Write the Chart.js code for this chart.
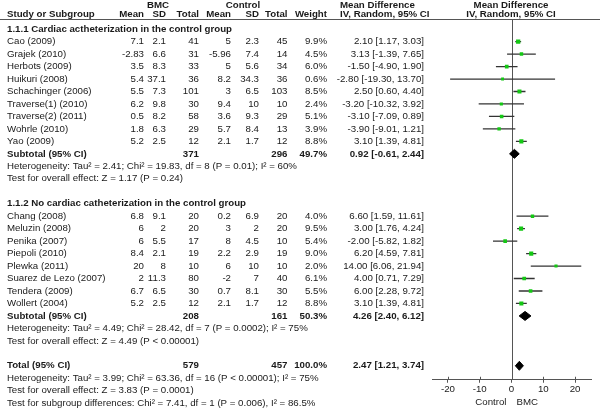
<!DOCTYPE html>
<html>
<head>
<meta charset="utf-8">
<script src="https://cdn.jsdelivr.net/npm/chart.js@4.4.0/dist/chart.umd.min.js"></script>
<style>
  html, body { margin: 0; padding: 0; background: #fff; }
  #wrap { width: 600px; height: 415px; }
</style>
</head>
<body>
<div id="wrap"><canvas id="forest" width="600" height="415"></canvas></div>
<script>
// --- group 1.1.1 ---
const names1 = ["Cao (2009)", "Grajek (2010)", "Herbots (2009)", "Huikuri (2008)", "Schachinger (2006)",
  "Traverse(1) (2010)", "Traverse(2) (2011)", "Wohrle (2010)", "Yao (2009)"];
const bmcMean1 = ["7.1", "-2.83", "3.5", "5.4", "5.5", "6.2", "0.5", "1.8", "5.2"];
const bmcSD1 = ["2.1", "6.6", "8.3", "37.1", "7.3", "9.8", "8.2", "6.3", "2.5"];
const bmcN1 = [41, 31, 33, 36, 101, 30, 58, 29, 12];
const ctlMean1 = ["5", "-5.96", "5", "8.2", "3", "9.4", "3.6", "5.7", "2.1"];
const ctlSD1 = ["2.3", "7.4", "5.6", "34.3", "6.5", "10", "9.3", "8.4", "1.7"];
const ctlN1 = [45, 14, 34, 36, 103, 10, 29, 13, 12];
const weight1 = [9.9, 4.5, 6.0, 0.6, 8.5, 2.4, 5.1, 3.9, 8.8];
const md1 = [2.10, 3.13, -1.50, -2.80, 2.50, -3.20, -3.10, -3.90, 3.10];
const lo1 = [1.17, -1.39, -4.90, -19.30, 0.60, -10.32, -7.09, -9.01, 1.39];
const hi1 = [3.03, 7.65, 1.90, 13.70, 4.40, 3.92, 0.89, 1.21, 4.81];

// --- group 1.1.2 ---
const names2 = ["Chang (2008)", "Meluzin (2008)", "Penika (2007)", "Piepoli (2010)", "Plewka (2011)",
  "Suarez de Lezo (2007)", "Tendera (2009)", "Wollert (2004)"];
const bmcMean2 = ["6.8", "6", "6", "8.4", "20", "2", "6.7", "5.2"];
const bmcSD2 = ["9.1", "2", "5.5", "2.1", "8", "11.3", "6.5", "2.5"];
const bmcN2 = [20, 20, 17, 19, 10, 80, 30, 12];
const ctlMean2 = ["0.2", "3", "8", "2.2", "6", "-2", "0.7", "2.1"];
const ctlSD2 = ["6.9", "2", "4.5", "2.9", "10", "7", "8.1", "1.7"];
const ctlN2 = [20, 20, 10, 19, 10, 40, 30, 12];
const weight2 = [4.0, 9.5, 5.4, 9.0, 2.0, 6.1, 5.5, 8.8];
const md2 = [6.60, 3.00, -2.00, 6.20, 14.00, 4.00, 6.00, 3.10];
const lo2 = [1.59, 1.76, -5.82, 4.59, 6.06, 0.71, 2.28, 1.39];
const hi2 = [11.61, 4.24, 1.82, 7.81, 21.94, 7.29, 9.72, 4.81];

// subtotals / total: [bmcN, ctlN, weight, md, lo, hi]
const sub1 = [371, 296, 49.7, 0.92, -0.61, 2.44];
const sub2 = [208, 161, 50.3, 4.26, 2.40, 6.12];
const total = [579, 457, 100.0, 2.47, 1.21, 3.74];

const xTicks = [-20, -10, 0, 10, 20];

const headings = ["1.1.1 Cardiac actheterization in the control group", "1.1.2 No cardiac catheterization in the control group"];
const het1 = ["Heterogeneity: Tau² = 2.41; Chi² = 19.83, df = 8 (P = 0.01); I² = 60%", "Test for overall effect: Z = 1.17 (P = 0.24)"];
const het2 = ["Heterogeneity: Tau² = 4.49; Chi² = 28.42, df = 7 (P = 0.0002); I² = 75%", "Test for overall effect: Z = 4.49 (P < 0.00001)"];
const hetTot = ["Heterogeneity: Tau² = 3.99; Chi² = 63.36, df = 16 (P < 0.00001); I² = 75%", "Test for overall effect: Z = 3.83 (P = 0.0001)",
  "Test for subgroup differences: Chi² = 7.41, df = 1 (P = 0.006), I² = 86.5%"];

// build the row list
const rows = [];
let r = 0;
function addGroup(title, names, bm, bs, bn, cm, cs, cn, w, md, lo, hi, sub, notes) {
  rows.push({ kind: "head", y: r++, text: title });
  names.forEach((n, i) => {
    rows.push({ kind: "study", y: r++, name: n, cells: [bm[i], bs[i], bn[i], cm[i], cs[i], cn[i], w[i].toFixed(1) + "%"],
      w: w[i], md: md[i], lo: lo[i], hi: hi[i] });
  });
  rows.push({ kind: "sum", y: r++, name: "Subtotal (95% CI)", n1: sub[0], n2: sub[1], w: sub[2], md: sub[3], lo: sub[4], hi: sub[5] });
  notes.forEach(t => rows.push({ kind: "note", y: r++, text: t }));
  r++;
}
addGroup(headings[0], names1, bmcMean1, bmcSD1, bmcN1, ctlMean1, ctlSD1, ctlN1, weight1, md1, lo1, hi1, sub1, het1);
addGroup(headings[1], names2, bmcMean2, bmcSD2, bmcN2, ctlMean2, ctlSD2, ctlN2, weight2, md2, lo2, hi2, sub2, het2);
rows.push({ kind: "sum", y: r++, name: "Total (95% CI)", n1: total[0], n2: total[1], w: total[2], md: total[3], lo: total[4], hi: total[5] });
hetTot.forEach(t => rows.push({ kind: "note", y: r++, text: t }));

const studies = rows.filter(o => o.kind === "study");
const sums = rows.filter(o => o.kind === "sum");
const fmt = v => v.toFixed(2);
const ciText = o => fmt(o.md) + " [" + fmt(o.lo) + ", " + fmt(o.hi) + "]";

const FONT = '"Liberation Sans", Arial, sans-serif';
const FSIZE = 9.7;
const colX = [144, 166, 199, 231, 259, 287.5, 327]; // right edges of table columns
const ciX = 424;

const datasets = [];
// CI whiskers (drawn behind the squares)
studies.forEach(o => {
  datasets.push({
    type: "line",
    order: 3,
    data: [{ x: o.lo, y: o.y }, { x: o.hi, y: o.y }],
    borderColor: "#333",
    borderWidth: 1.3,
    pointRadius: 0,
    tension: 0
  });
});
datasets.push({
  type: "scatter",
  order: 1,
  data: studies.map(o => ({ x: o.md, y: o.y })),
  pointStyle: "rect",
  pointRadius: studies.map(o => 2 + o.w * 0.1),
  backgroundColor: "#14c814",
  borderWidth: 0
});
const dh = 0.36;
sums.forEach(o => {
  datasets.push({
    type: "line",
    order: 2,
    data: [{ x: o.lo, y: o.y }, { x: o.md, y: o.y - dh }, { x: o.hi, y: o.y }, { x: o.md, y: o.y + dh }, { x: o.lo, y: o.y }],
    fill: "shape",
    backgroundColor: "#000",
    borderColor: "#000",
    borderWidth: 1,
    pointRadius: 0,
    tension: 0
  });
});

const tablePlugin = {
  id: "table",
  beforeDatasetsDraw(chart) {
    const ctx = chart.ctx, xs = chart.scales.x, area = chart.chartArea;
    ctx.save();
    ctx.strokeStyle = "#555";
    ctx.lineWidth = 1;
    ctx.beginPath();
    ctx.moveTo(0, 19.5);
    ctx.lineTo(600, 19.5);
    const x0 = Math.round(xs.getPixelForValue(0)) + 0.5;
    ctx.moveTo(x0, 19.5);
    ctx.lineTo(x0, area.bottom);
    ctx.stroke();
    ctx.restore();
  },
  afterDraw(chart) {
    const ctx = chart.ctx, ys = chart.scales.y, xs = chart.scales.x, area = chart.chartArea;
    ctx.save();
    ctx.fillStyle = "#1a1a1a";
    ctx.textBaseline = "middle";
    const txt = (s, x, y, align, bold) => {
      ctx.font = (bold ? "bold " : "") + FSIZE + "px " + FONT;
      ctx.textAlign = align;
      ctx.fillText(s, x, y);
    };
    // header
    txt("BMC", 158, 5, "center", true);
    txt("Control", 243, 5, "center", true);
    txt("Mean Difference", 340, 5, "left", true);
    txt("Mean Difference", 511, 5, "center", true);
    txt("Study or Subgroup", 7, 14.5, "left", true);
    ["Mean", "SD", "Total", "Mean", "SD", "Total", "Weight"].forEach((h, i) => txt(h, colX[i], 14.5, "right", true));
    txt("IV, Random, 95% CI", 340, 14.5, "left", true);
    txt("IV, Random, 95% CI", 511, 14.5, "center", true);

    rows.forEach(o => {
      const y = ys.getPixelForValue(o.y);
      if (o.kind === "head") txt(o.text, 7, y, "left", true);
      else if (o.kind === "note") txt(o.text, 7, y, "left", false);
      else if (o.kind === "study") {
        txt(o.name, 7, y, "left", false);
        o.cells.forEach((c, i) => txt(String(c), colX[i], y, "right", false));
        txt(ciText(o), ciX, y, "right", false);
      } else if (o.kind === "sum") {
        txt(o.name, 7, y, "left", true);
        txt(String(o.n1), colX[2], y, "right", true);
        txt(String(o.n2), colX[5], y, "right", true);
        txt(o.w.toFixed(1) + "%", colX[6], y, "right", true);
        txt(ciText(o), ciX, y, "right", true);
      }
    });

    // upper half of tick marks
    ctx.strokeStyle = "#555";
    ctx.lineWidth = 1;
    ctx.beginPath();
    xTicks.forEach(v => {
      const px = Math.round(xs.getPixelForValue(v)) + 0.5;
      ctx.moveTo(px, area.bottom - 3);
      ctx.lineTo(px, area.bottom);
    });
    ctx.stroke();

    const x0 = xs.getPixelForValue(0);
    txt("Control", x0 - 5, 402.5, "right", false);
    txt("BMC", x0 + 5, 402.5, "left", false);
    ctx.restore();
  }
};

new Chart(document.getElementById("forest"), {
  type: "scatter",
  data: { datasets },
  options: {
    responsive: false,
    animation: false,
    layout: { padding: { left: 432, right: 9, top: 20, bottom: 18.6 } },
    plugins: { legend: { display: false }, tooltip: { enabled: false } },
    scales: {
      x: {
        type: "linear",
        min: -25,
        max: 25,
        afterBuildTicks: axis => { axis.ticks = xTicks.map(v => ({ value: v })); },
        grid: { display: true, drawOnChartArea: false, drawTicks: true, tickLength: 3, color: "#555" },
        border: { display: true, color: "#555", width: 1 },
        ticks: { padding: 1, color: "#1a1a1a", font: { family: FONT, size: FSIZE } }
      },
      y: {
        type: "linear",
        reverse: true,
        min: -0.735,
        max: 28.12,
        display: false
      }
    }
  },
  plugins: [tablePlugin]
});
</script>
</body>
</html>
